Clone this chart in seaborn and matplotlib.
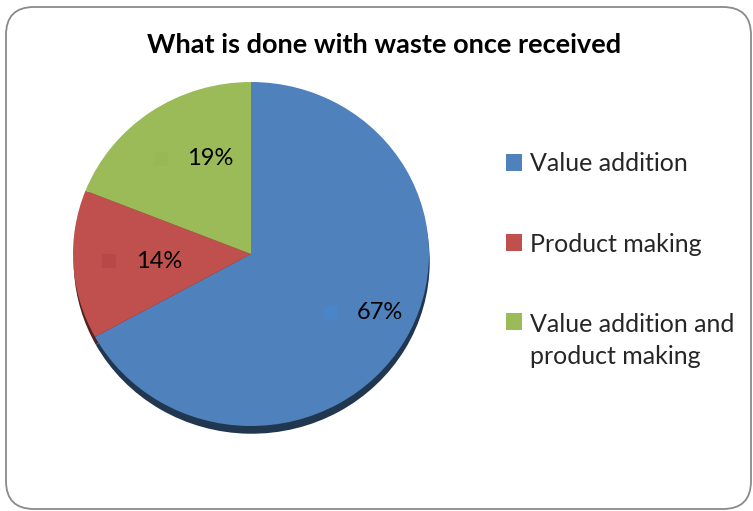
import numpy as np
import matplotlib
matplotlib.use('Agg')
import matplotlib.pyplot as plt
import matplotlib.colors as mcolors
from matplotlib.patches import FancyBboxPatch
import seaborn as sns

# -- Data --
CATEGORIES = ["Value addition", "Product making", "Value addition and\nproduct making"]
SHARES     = [67, 14, 19]
COLORS     = ["#4F81BD", "#C0504D", "#9BBB59"]
TITLE      = "What is done with waste once received"

sns.set_theme(style="white")
plt.rcParams['font.family'] = ['Lato', 'DejaVu Sans']

W, H, DPI = 753, 511, 100
fig = plt.figure(figsize=(W / DPI, H / DPI), dpi=DPI)
fig.patch.set_facecolor('white')

# rounded outer frame (Excel chart area)
frame = FancyBboxPatch((0.06, 0.02), 7.45, 5.02,
                       boxstyle="round,pad=0,rounding_size=0.28",
                       transform=fig.dpi_scale_trans, facecolor='none',
                       edgecolor='#8a8a8a', linewidth=1.3, zorder=-1)
fig.patches.append(frame)

# pie axes: centre ~ (251, 254) px, slightly flattened (rx 178, ry 172)
rx, ry = 178, 172
cx, cy = 251, H - 254
lim = 1.12
aw, ah = 2 * lim * rx, 2 * lim * ry
ax = fig.add_axes([(cx - aw / 2) / W, (cy - ah / 2) / H, aw / W, ah / H])

# shadow under the pie
dark = [tuple(np.array(mcolors.to_rgb(c)) * 0.42) for c in COLORS]
ax.pie(SHARES, colors=dark, startangle=90, counterclock=False,
       center=(0.004, -0.045), radius=1.0, wedgeprops=dict(linewidth=0))

wedges, _, autotexts = ax.pie(SHARES, colors=COLORS, startangle=90,
                              counterclock=False, radius=1.0,
                              autopct='%1.0f%%', pctdistance=0.67,
                              wedgeprops=dict(linewidth=0),
                              textprops=dict(fontsize=17, color='black'))

# data label: faint key square + percentage text
key_tint = ["#4A85C8", "#B84747", "#96B955"]
for t, c in zip(autotexts, key_tint):
    x, y = t.get_position()
    t.set_position((x + 0.15, y))
    t.set_ha('center')
    ax.scatter([x - 0.13], [y], marker='s', s=90, color=c, zorder=3,
               linewidths=0)

ax.set_xlim(-lim, lim)
ax.set_ylim(-lim, lim)
ax.set_aspect('auto')
ax.axis('off')

fig.text(384 / W, 1 - 45 / H, TITLE, ha='center', va='center',
         fontsize=19.5, fontweight='bold', color='black')

leg = fig.legend(wedges, CATEGORIES, loc='upper left',
                 bbox_to_anchor=(506 / W, 1 - 152 / H),
                 frameon=False, fontsize=18, handlelength=0.65,
                 handleheight=0.65, handletextpad=0.3, labelspacing=2.3,
                 borderpad=0, borderaxespad=0)
for t in leg.get_texts():
    t.set_linespacing(1.5)
# keep the key square on the first line of the two-line label
column = leg._legend_handle_box.get_children()[0]
column.get_children()[-1].align = "top"

plt.savefig("out.png", dpi=DPI, facecolor=fig.get_facecolor())
plt.close(fig)
